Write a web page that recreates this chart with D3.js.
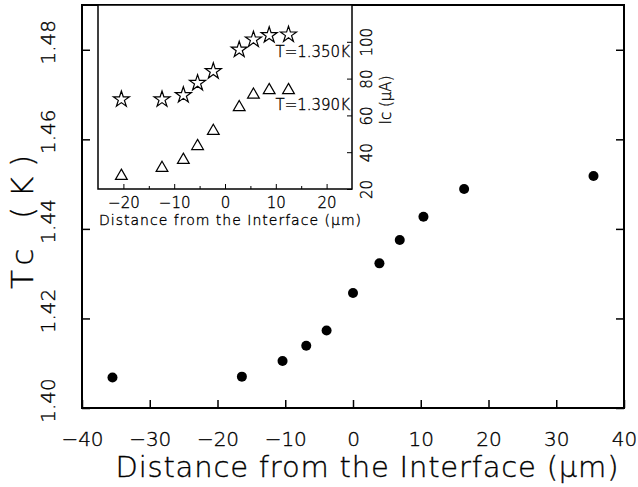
<!DOCTYPE html>
<html><head><meta charset="utf-8">
<script src="https://cdn.jsdelivr.net/npm/d3@7"></script>
<style>body{margin:0;background:#fff}svg{display:block}text{font-family:"DejaVu Sans",sans-serif;font-weight:200;fill:#000;stroke:#000;stroke-width:0.35px}</style>
</head><body><svg id="c" width="638" height="487"></svg>
<script>
// Main data: Tc vs distance
const mainX = [-35.5, -16.4, -10.4, -6.9, -3.9, 0, 3.9, 6.9, 10.4, 16.4, 35.5];
const mainTc = [1.4068, 1.4070, 1.4105, 1.4139, 1.4173, 1.4257, 1.4323, 1.4375, 1.4427, 1.4489, 1.4518];
const mainXTicks = [-40, -30, -20, -10, 0, 10, 20, 30, 40];
const mainYTicks = [1.40, 1.42, 1.44, 1.46, 1.48];
// Inset data: Ic vs distance
const insetX = [-20.4, -12.4, -8.2, -5.4, -2.3, 2.8, 5.6, 8.7, 12.5];
const ic1350 = [68.7, 68.7, 71.0, 77.6, 84.0, 95.7, 101.2, 103.6, 103.9];
const ic1390 = [27.1, 31.4, 35.8, 43.3, 51.5, 64.4, 71.2, 73.7, 73.7];
const insetXTicks = [-20, -10, 0, 10, 20];
const insetXMinor = [-15, -5, 5, 15];
const insetYTicks = [20, 40, 60, 80, 100];

const svg = d3.select("#c");
const M = {l:82, r:624, t:5, b:408};
const x = d3.scaleLinear().domain([-40,40]).range([M.l, M.r]);
const y = d3.scaleLinear().domain([1.40,1.49]).range([M.b, M.t]);

svg.append("rect").attr("x",M.l).attr("y",M.t).attr("width",M.r-M.l).attr("height",M.b-M.t)
  .attr("fill","none").attr("stroke","#000").attr("stroke-width",2);

const gx = svg.append("g").attr("transform",`translate(0,${M.b})`)
  .call(d3.axisBottom(x).tickValues(mainXTicks).tickSizeInner(-8).tickSizeOuter(0)
    .tickFormat(d=>d<0?"\u2212"+Math.abs(d):d));
gx.select(".domain").remove();
gx.selectAll("line").attr("stroke-width",1.5);
gx.selectAll("text").attr("font-size",20).attr("dy","0.71em").attr("y",24);

const gy = svg.append("g").attr("transform",`translate(${M.l},0)`)
  .call(d3.axisLeft(y).tickValues(mainYTicks).tickSizeInner(-8).tickSizeOuter(0).tickFormat(d3.format(".2f")));
gy.select(".domain").remove();
gy.selectAll("line").attr("stroke-width",1.5);
gy.selectAll("text").attr("font-size",20).attr("x",0).attr("dy",0)
  .attr("transform","translate(-34,-8) rotate(-90)").attr("text-anchor","middle").attr("dominant-baseline","central");

const gyr = svg.append("g").attr("transform",`translate(${M.r},0)`)
  .call(d3.axisRight(y).tickValues(mainYTicks).tickSizeInner(-8).tickSizeOuter(0).tickFormat(""));
gyr.select(".domain").remove();
gyr.selectAll("line").attr("stroke-width",1.5);

svg.append("text").attr("x",367).attr("y",477).attr("text-anchor","middle").attr("font-size",29)
  .attr("textLength",503).attr("lengthAdjust","spacing").text("Distance from the Interface (\u03bcm)");
svg.append("text").attr("transform","translate(33,222) rotate(-90)").attr("text-anchor","middle")
  .attr("font-size",31).attr("textLength",134).attr("lengthAdjust","spacing").text("Tc (K)");

svg.append("g").selectAll("circle").data(mainX).join("circle")
  .attr("cx",(d)=>x(d)).attr("cy",(d,i)=>y(mainTc[i])).attr("r",5).attr("fill","#000");

// ===== inset =====
const I = {l:98, r:352, t:5, b:189};
const ix = d3.scaleLinear().domain([-25,25]).range([I.l, I.r]);
const iy = d3.scaleLinear().domain([20,120]).range([I.b, I.t]);
svg.append("rect").attr("x",I.l).attr("y",I.t).attr("width",I.r-I.l).attr("height",I.b-I.t)
  .attr("fill","#fff").attr("stroke","#000").attr("stroke-width",1.5);

const igx = svg.append("g").attr("transform",`translate(0,${I.b})`)
  .call(d3.axisBottom(ix).tickValues(insetXTicks).tickSizeInner(-5).tickSizeOuter(0)
    .tickFormat(d=>d<0?"\u2212"+Math.abs(d):d));
igx.select(".domain").remove();
igx.selectAll("text").attr("font-size",15).attr("y",8);
const igxm = svg.append("g").attr("transform",`translate(0,${I.b})`)
  .call(d3.axisBottom(ix).tickValues(insetXMinor).tickSizeInner(-3).tickSizeOuter(0).tickFormat(""));
igxm.select(".domain").remove();

const igy = svg.append("g").attr("transform",`translate(${I.r},0)`)
  .call(d3.axisRight(iy).tickValues(insetYTicks).tickSizeInner(-5).tickSizeOuter(0));
igy.select(".domain").remove();
igy.selectAll("text").attr("font-size",15).attr("x",0).attr("dy",0)
  .attr("transform","translate(15,0) rotate(-90)").attr("text-anchor","middle").attr("dominant-baseline","central");

svg.append("text").attr("x",230).attr("y",225).attr("text-anchor","middle").attr("font-size",14)
  .attr("textLength",262).attr("lengthAdjust","spacing").text("Distance from the Interface (\u03bcm)");
svg.append("text").attr("transform","translate(386,100) rotate(-90)").attr("text-anchor","middle")
  .attr("font-size",15).attr("dominant-baseline","central").text("Ic (\u03bcA)");

const star = d3.symbol().type(d3.symbolStar).size(80);
svg.append("g").selectAll("path").data(insetX).join("path")
  .attr("transform",(d,i)=>`translate(${ix(d)},${iy(ic1350[i])})`).attr("d",star)
  .attr("fill","none").attr("stroke","#000").attr("stroke-width",1.2);
const tri = d3.symbol().type(d3.symbolTriangle).size(60);
svg.append("g").selectAll("path").data(insetX).join("path")
  .attr("transform",(d,i)=>`translate(${ix(d)},${iy(ic1390[i])})`).attr("d",tri)
  .attr("fill","none").attr("stroke","#000").attr("stroke-width",1.2);

svg.append("text").attr("x",I.r-2).attr("y",52).attr("text-anchor","end").attr("font-size",15)
  .attr("dominant-baseline","central").text("T=1.350K");
svg.append("text").attr("x",I.r-2).attr("y",105).attr("text-anchor","end").attr("font-size",15)
  .attr("dominant-baseline","central").text("T=1.390K");
</script></body></html>
